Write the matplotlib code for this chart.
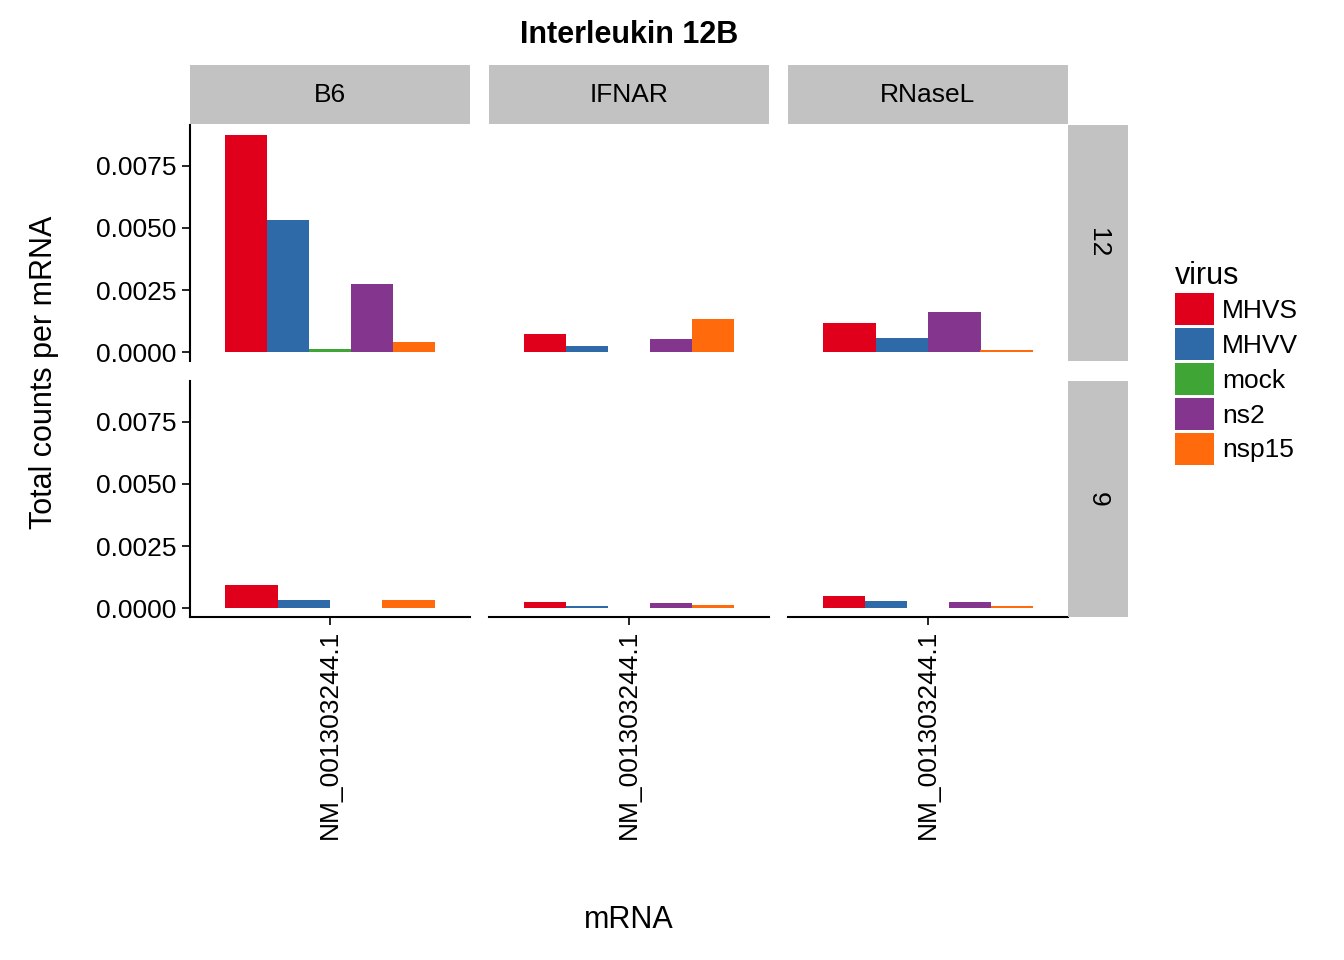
import matplotlib.pyplot as plt
from matplotlib.patches import Patch

viruses = ['MHVS', 'MHVV', 'mock', 'ns2', 'nsp15']
colors = {'MHVS': '#E0001B', 'MHVV': '#2E6AA8', 'mock': '#3FA535',
          'ns2': '#84368F', 'nsp15': '#FF6A0D'}
strains = ['B6', 'IFNAR', 'RNaseL']
rows = ['12', '9']
mrna = 'NM_001303244.1'

# values per (row, strain); missing virus -> absent
data = {
    ('12', 'B6'): {'MHVS': 0.00875, 'MHVV': 0.00532, 'mock': 0.00012, 'ns2': 0.00274, 'nsp15': 0.00040},
    ('12', 'IFNAR'): {'MHVS': 0.00073, 'MHVV': 0.00024, 'mock': 0.00002, 'ns2': 0.00052, 'nsp15': 0.00133},
    ('12', 'RNaseL'): {'MHVS': 0.00117, 'MHVV': 0.00056, 'ns2': 0.00161, 'nsp15': 0.00008},
    ('9', 'B6'): {'MHVS': 0.00093, 'MHVV': 0.00032, 'mock': 0.00002, 'nsp15': 0.00032},
    ('9', 'IFNAR'): {'MHVS': 0.00024, 'MHVV': 0.00008, 'mock': 0.00001, 'ns2': 0.00020, 'nsp15': 0.00012},
    ('9', 'RNaseL'): {'MHVS': 0.00048, 'MHVV': 0.00028, 'mock': 0.00001, 'ns2': 0.00024, 'nsp15': 0.00008},
}

plt.rcParams['font.family'] = ['Liberation Sans', 'DejaVu Sans']
fig = plt.figure(figsize=(13.44, 9.6), dpi=100)
W, H = 1344, 960
lefts = [190, 489, 788]
pw = 280
tops = [125, 381]
ph = 236
strip_grey = '#C2C2C2'

for r, row in enumerate(rows):
    for c, st in enumerate(strains):
        ax = fig.add_axes([lefts[c] / W, 1 - (tops[r] + ph) / H, pw / W, ph / H])
        vals = data[(row, st)]
        present = [v for v in viruses if v in vals]
        n = len(present)
        bw = 0.9 / n
        for i, v in enumerate(present):
            x = 1 - 0.45 + bw * (i + 0.5)
            ax.bar(x, vals[v], width=bw, color=colors[v])
        ax.set_xlim(0.4, 1.6)
        ax.set_ylim(-0.00036, 0.00915)
        ax.set_yticks([0, 0.0025, 0.005, 0.0075])
        for s in ax.spines.values():
            s.set_visible(False)
        ax.tick_params(length=6, width=1.2, labelsize=19, colors='black')
        if c == 0:
            ax.spines['left'].set_visible(True)
            ax.spines['left'].set_linewidth(1.5)
            ax.set_yticklabels(['0.0000', '0.0025', '0.0050', '0.0075'])
        else:
            ax.tick_params(axis='y', left=False, labelleft=False)
        if r == 1:
            ax.spines['bottom'].set_visible(True)
            ax.spines['bottom'].set_linewidth(1.5)
            ax.set_xticks([1])
            ax.set_xticklabels([mrna], rotation=90, fontsize=19)
        else:
            ax.set_xticks([])
        ax.set_facecolor('white')
        if r == 0:
            sax = fig.add_axes([lefts[c] / W, 1 - 124 / H, pw / W, 59 / H])
            sax.set_facecolor(strip_grey)
            sax.set_xticks([]); sax.set_yticks([])
            for s in sax.spines.values():
                s.set_visible(False)
            sax.text(0.5, 0.5, st, ha='center', va='center', fontsize=19, transform=sax.transAxes)
        if c == 2:
            sax = fig.add_axes([1068 / W, 1 - (tops[r] + ph) / H, 60 / W, ph / H])
            sax.set_facecolor(strip_grey)
            sax.set_xticks([]); sax.set_yticks([])
            for s in sax.spines.values():
                s.set_visible(False)
            sax.text(0.5, 0.5, row, ha='center', va='center', fontsize=19,
                     rotation=-90, transform=sax.transAxes)

fig.text(629 / W, 1 - 35 / H, 'Interleukin 12B', ha='center', va='center',
         fontsize=22, fontweight='bold')
fig.text(629 / W, 1 - 920 / H, 'mRNA', ha='center', va='center', fontsize=22)
fig.text(44 / W, 1 - 372 / H, 'Total counts per mRNA', ha='center', va='center',
         fontsize=22, rotation=90)

handles = [Patch(facecolor=colors[v], label=v) for v in viruses]
leg = fig.legend(handles=handles, title='virus', loc='upper left',
                 bbox_to_anchor=(1164 / W, 1 - 250 / H), frameon=False,
                 fontsize=19, title_fontsize=22, handlelength=1.5, handleheight=1.5,
                 handletextpad=0.3, labelspacing=0.1, borderaxespad=0)
leg._legend_box.align = 'left'

fig.savefig('out.png', dpi=100)
